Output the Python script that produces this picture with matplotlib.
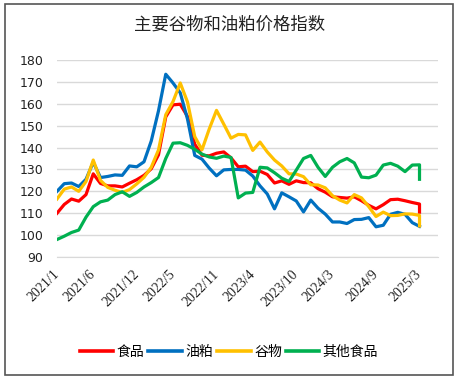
import matplotlib
matplotlib.use("Agg")
import matplotlib.pyplot as plt
from matplotlib.patches import Rectangle

# ---- data -------------------------------------------------------------
# monthly periods 2021/1 .. 2025/3, plus the latest (intra-month) reading of 2025/3
periods = [f"{y}/{m}" for y in range(2021, 2026) for m in range(1, 13)
           if (y, m) <= (2025, 3)] + ["2025/3"]

food = [110, 114, 116.5, 115.5, 118.5, 128, 123.6, 122.5, 122.5, 122, 123.7, 125.3,
        127.3, 130.3, 136.7, 154, 159.5, 159.8, 154.2, 141.5, 136.5, 136.2, 137.4, 138,
        135.3, 131.2, 131.5, 129, 129.2, 127.7, 123.8, 124.8, 123.2, 124.8, 124, 123.9,
        121.2, 119.6, 117.5, 117.2, 116.9, 117.5, 115.7, 113.6, 112, 113.9, 116.2, 116.4,
        115.7, 114.9, 114.2, 110.5]
meal = [120, 123.5, 123.8, 122.2, 125.5, 133.3, 126.3, 126.8, 127.5, 127.3, 131.6, 131.2,
        133.5, 143, 156.8, 173.5, 169.5, 165, 153, 136.4, 134.7, 130.6, 127.1, 129.8,
        130, 130, 129.7, 127, 122.5, 118.8, 112, 119.3, 117.5, 115.6, 110.6, 116,
        112.3, 109.6, 106, 106, 105.3, 107.1, 107.2, 108, 103.8, 104.5, 109.5, 110.4,
        109.5, 105.7, 104, 104]
grain = [116.5, 121, 122, 120, 124.5, 134.3, 125, 121.8, 120.5, 119.5, 120.8, 123.4,
         126.4, 131, 138.9, 155, 161, 169.5, 160.8, 145, 139, 148.5, 157, 150.7,
         144.3, 146, 145.8, 138.7, 142.5, 138, 134.3, 131.6, 128, 127.9, 126.7, 123,
         122.9, 121.6, 118, 116, 114.7, 118.5, 117, 113, 108.5, 110.5, 108.9, 109,
         109.7, 109.6, 109, 104.2]
other = [98, 99.5, 101.2, 102.3, 108.2, 113, 115.2, 116, 118.5, 119.8, 117.7, 119.5,
         122, 124, 126.3, 135, 142, 142.2, 141, 139.2, 137, 135.7, 135.1, 136.1,
         135.5, 117, 119.2, 119.5, 131, 130.7, 128.5, 126, 124.5, 129.7, 135, 136.4,
         131, 126.8, 131, 133.5, 135, 133, 126.5, 126.2, 127.4, 132, 132.8, 131.5,
         129, 132, 132.1, 125.5]

series_names = ["食品", "油粕", "谷物", "其他食品"]
series_colors = ["#FF0000", "#0070C0", "#FFC000", "#00B050"]
tick_labels = ["2021/1", "2021/6", "2021/12", "2022/5", "2022/11", "2023/4",
               "2023/10", "2024/3", "2024/9", "2025/3"]
title = "主要谷物和油粕价格指数"


def month_pos(label):
    y, m = label.split("/")
    return (int(y) - 2021) * 12 + int(m) - 1


x = [month_pos(p) for p in periods]
ticks = [month_pos(t) for t in tick_labels]

# ---- figure -----------------------------------------------------------
cjk = ["Noto Sans CJK SC", "DejaVu Sans"]
fig = plt.figure(figsize=(4.6, 3.82), dpi=100)
fig.patch.set_facecolor("white")
ax = fig.add_axes([57 / 460, 125 / 382, 381 / 460, 197 / 382])

for vals, name, col in zip([food, meal, grain, other], series_names, series_colors):
    ax.plot(x, vals, color=col, lw=2.3, label=name, solid_joinstyle="round")

ax.set_ylim(90, 180)
ax.set_yticks(range(90, 181, 10))
ax.set_xlim(0, 52.55)
ax.set_xticks(ticks)
ax.set_xticklabels(tick_labels, rotation=45, ha="right", va="center",
                   rotation_mode="anchor", family="Liberation Serif", fontsize=10,
                   color="#222222")
for lab in ax.get_yticklabels():
    lab.set_family("DejaVu Sans")
    lab.set_fontsize(9)
    lab.set_color("#222222")
ax.tick_params(axis="x", length=0, pad=11)
ax.tick_params(axis="y", length=0, pad=10)
ax.grid(axis="y", color="#D9D9D9", lw=1)
ax.set_axisbelow(True)
for s in ["top", "right", "left"]:
    ax.spines[s].set_visible(False)
ax.spines["bottom"].set_color("#D9D9D9")

fig.text(230 / 460, 1 - 25 / 382, title, ha="center", va="center",
         family=cjk, fontsize=12.5, color="#222222")

leg = fig.legend(loc="center", bbox_to_anchor=(229 / 460, 1 - 352 / 382),
                 ncol=4, frameon=False, prop={"family": cjk, "size": 10},
                 handlelength=2.4, handletextpad=0.25, columnspacing=0.3,
                 borderaxespad=0)
for line in leg.get_lines():
    line.set_linewidth(2.6)

fig.patches.append(Rectangle((5 / 460, 1 - 375 / 382), 448 / 460, 371 / 382,
                             transform=fig.transFigure, fill=False,
                             edgecolor="#555555", lw=1.2))

fig.savefig("out.png", dpi=100, facecolor="white")
